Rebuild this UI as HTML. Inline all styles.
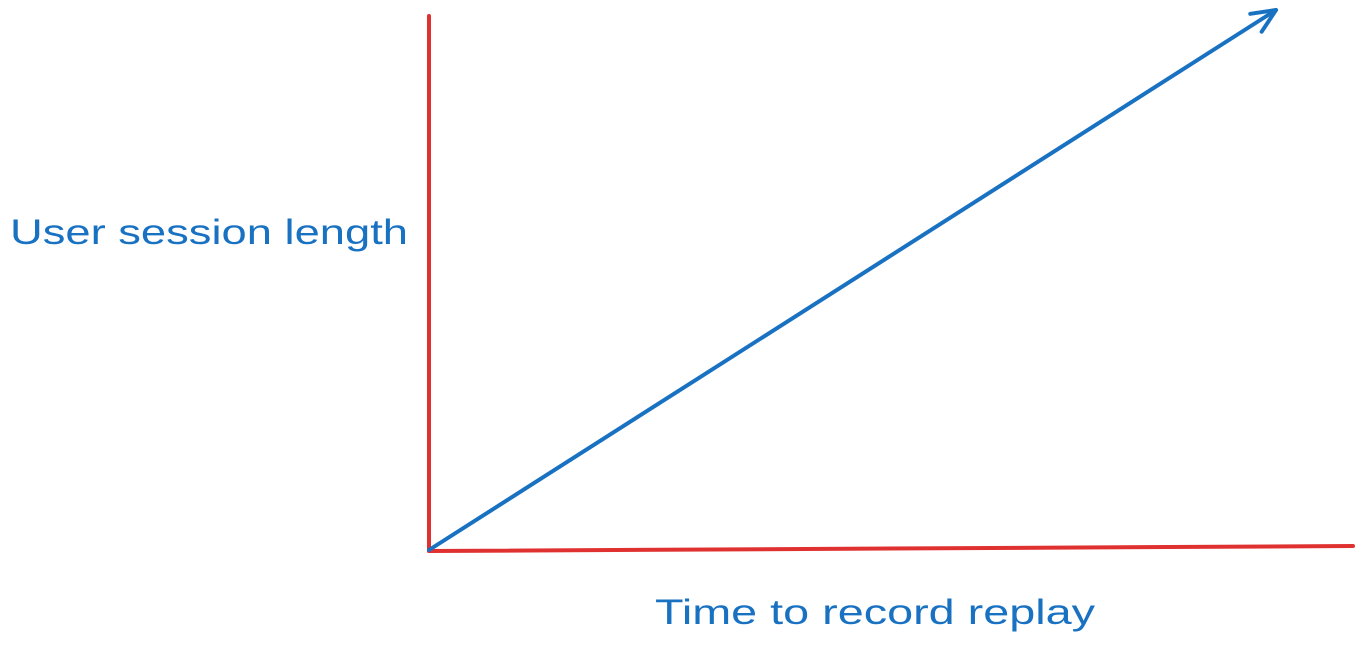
<!DOCTYPE html>
<html>
<head>
<meta charset="utf-8">
<style>
  html, body { margin: 0; padding: 0; background: #ffffff; }
  svg { display: block; }
  text { font-family: "Liberation Sans", "DejaVu Sans", sans-serif; fill: #1971c2; }
</style>
</head>
<body>
<svg id="chart" width="1361" height="649" viewBox="0 0 1361 649">
  <g id="axes">
    <path d="M429,16 Q428,280 429,551" stroke="#e03131" stroke-width="4" fill="none" stroke-linecap="round"/>
    <path d="M429,551 Q890,550 1353,546" stroke="#e03131" stroke-width="4" fill="none" stroke-linecap="round"/>
  </g>
  <g id="series"></g>
  <text x="10" y="244" font-size="35" textLength="398" lengthAdjust="spacingAndGlyphs">User session length</text>
  <text x="655" y="624" font-size="35" textLength="440" lengthAdjust="spacingAndGlyphs">Time to record replay</text>
</svg>
<script>
const xValues = [0, 1];
const yValues = [0, 1];

function xScale(v) { return 429 + v * (1276 - 429); }
function yScale(v) { return 550 - v * (550 - 10); }

const g = document.getElementById('series');
const ns = 'http://www.w3.org/2000/svg';
let d = '';
for (let i = 0; i < xValues.length; i++) {
  d += (i === 0 ? 'M' : 'L') + xScale(xValues[i]) + ',' + yScale(yValues[i]);
}
const line = document.createElementNS(ns, 'path');
line.setAttribute('d', d);
line.setAttribute('stroke', '#1971c2');
line.setAttribute('stroke-width', '4');
line.setAttribute('fill', 'none');
line.setAttribute('stroke-linecap', 'round');


g.appendChild(line);

// arrowhead at last point
const n = xValues.length - 1;
const ex = xScale(xValues[n]), ey = yScale(yValues[n]);
const px = xScale(xValues[n - 1]), py = yScale(yValues[n - 1]);
const ang = Math.atan2(ey - py, ex - px);
const len = 26, spread = 0.42;
const a1x = ex - len * Math.cos(ang - spread), a1y = ey - len * Math.sin(ang - spread);
const a2x = ex - len * Math.cos(ang + spread), a2y = ey - len * Math.sin(ang + spread);
const head = document.createElementNS(ns, 'path');
head.setAttribute('d', 'M' + a1x + ',' + a1y + 'L' + ex + ',' + ey + 'L' + a2x + ',' + a2y);
head.setAttribute('stroke', '#1971c2');
head.setAttribute('stroke-width', '4');
head.setAttribute('fill', 'none');
head.setAttribute('stroke-linecap', 'round');
head.setAttribute('stroke-linejoin', 'round');


g.appendChild(head);
</script>
</body>
</html>
